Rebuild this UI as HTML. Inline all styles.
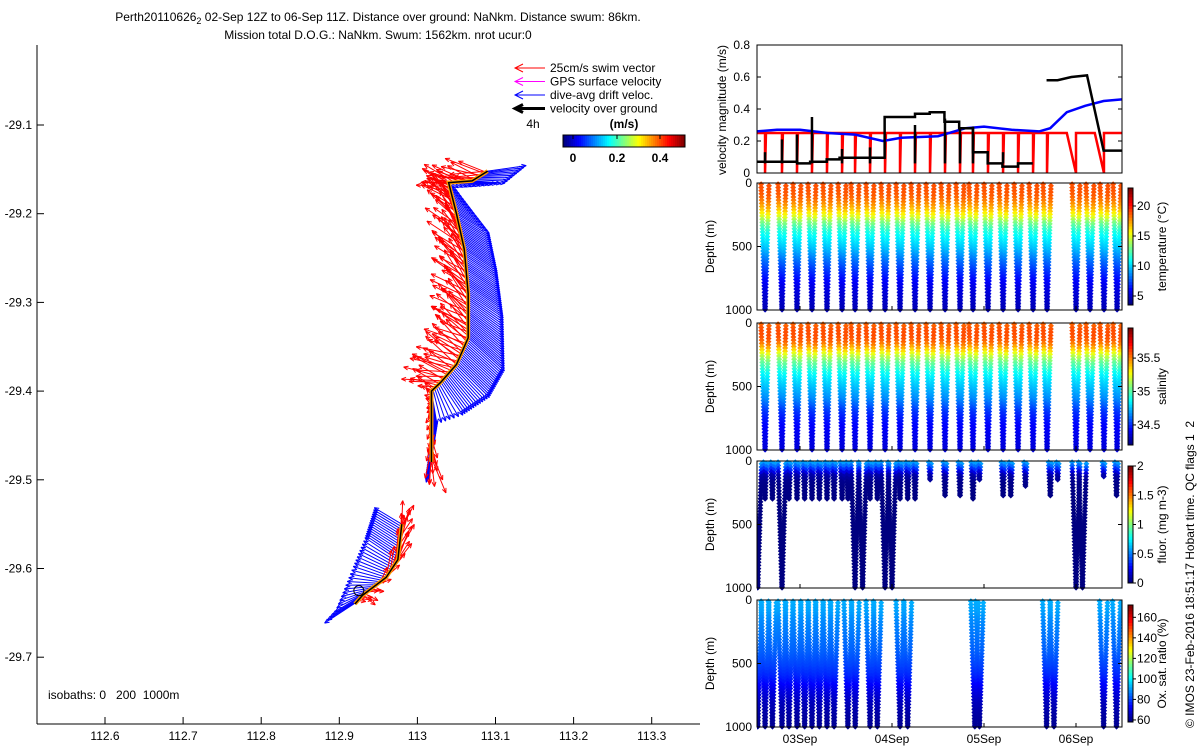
<!DOCTYPE html>
<html><head><meta charset="utf-8">
<style>
body{margin:0;background:#fff;}
svg{display:block;font-family:"Liberation Sans",sans-serif;}
text{fill:#000;white-space:pre;}
</style></head>
<body>
<svg id="c" width="1200" height="750" xmlns="http://www.w3.org/2000/svg">
<text x="378" y="21" font-size="12" text-anchor="middle">Perth20110626<tspan font-size="9" dy="3">2</tspan><tspan dy="-3"> 02-Sep 12Z to 06-Sep 11Z. Distance over ground: NaNkm. Distance swum: 86km.</tspan></text>
<text x="378" y="39" font-size="12" text-anchor="middle">Mission total D.O.G.: NaNkm. Swum: 1562km. nrot ucur:0</text>
<text transform="translate(1194,728) rotate(-90)" font-size="12">© IMOS 23-Feb-2016 18:51:17 Hobart time. QC flags 1  2</text>
</svg>
<script>
// ---------- DATA ----------
const trackLon = [113.09, 113.07, 113.04, 113.05, 113.06, 113.065, 113.065, 113.05, 113.03, 113.018, 113.018];
const trackLat = [-29.152, -29.163, -29.165, -29.2, -29.24, -29.29, -29.34, -29.37, -29.39, -29.40, -29.48];
const driftU = [0.35, 0.3, 0.05, 0.3, 0.3, 0.32, 0.33, 0.3, 0.2, 0.05, -0.05];
const driftV = [0.05, -0.02, -0.05, -0.18, -0.2, -0.22, -0.3, -0.3, -0.3, -0.3, -0.2];
const swimU = [-0.25, -0.25, -0.2, -0.15, -0.18, -0.2, -0.22, -0.25, -0.25, -0.05, 0.03];
const swimV = [0.05, 0.05, 0.05, 0.2, 0.2, 0.18, 0.15, 0.12, 0.05, 0.05, -0.25];
const track2Lon = [112.98, 112.975, 112.96, 112.93, 112.92];
const track2Lat = [-29.55, -29.59, -29.61, -29.63, -29.64];
const drift2U = [-0.25, -0.3, -0.3, -0.25, -0.3];
const drift2V = [0.15, 0.2, 0.1, -0.15, -0.2];
const swim2U = [0.05, 0.06, 0.08, 0.1, 0.05];
const swim2V = [0.15, 0.2, 0.15, -0.05, 0.05];
const xTicks = [112.6, 112.7, 112.8, 112.9, 113, 113.1, 113.2, 113.3];
const xTickLabels = ["112.6","112.7","112.8","112.9","113","113.1","113.2","113.3"];
const yTicks = [-29.1, -29.2, -29.3, -29.4, -29.5, -29.6, -29.7];

const ogT = [2.533,2.97,2.97,3.11,3.11,3.29,3.29,3.43,3.43,3.92,3.92,4.25,4.25,4.41,4.41,4.57,4.57,4.73,4.73,4.88,4.88,5.04,5.04,5.2,5.2,5.37,5.37,5.53];
const ogV = [0.07,0.07,0.06,0.06,0.07,0.07,0.085,0.085,0.095,0.095,0.35,0.35,0.37,0.37,0.38,0.38,0.32,0.32,0.28,0.28,0.13,0.13,0.06,0.06,0.04,0.04,0.06,0.06];
const og2T = [5.68,5.8,5.95,6.12,6.3,6.5];
const og2V = [0.58,0.58,0.6,0.61,0.14,0.14];
const driftT = [2.533,2.75,3.0,3.3,3.6,3.9,4.1,4.5,4.8,5.0,5.3,5.6,5.72,5.9,6.1,6.3,6.5];
const driftM = [0.26,0.27,0.27,0.25,0.24,0.2,0.22,0.23,0.28,0.29,0.27,0.26,0.28,0.38,0.42,0.45,0.46];
const diveT = [2.620,2.804,2.967,3.130,3.293,3.457,3.598,3.761,3.924,4.087,4.250,4.413,4.576,4.739,4.880,5.043,5.207,5.370,5.533,5.685,6.0,6.152,6.304,6.446];
const swimDropT = [2.620,2.804,2.967,3.130,3.293,3.457,3.598,3.761,3.924,4.087,4.250,4.413,4.576,4.739,4.880,5.043,5.207,5.370,5.533,5.685];
const swimTriT = [6.0,6.304];
const profDepth = [0,50,100,150,200,250,300,350,400,500,600,700,800,900,1000];
const tempProf = [19,19,18.8,18,17,15.5,13.5,12,11,9.8,8.2,6.8,5.6,5,4.5];
const salProf = [35.55,35.6,35.6,35.55,35.4,35.2,35.05,34.95,34.85,34.75,34.65,34.5,34.42,34.38,34.35];
const fluProf = [0.6,0.4,0.1,0.03,0.01,0.01,0,0,0,0,0,0,0,0,0];
const oxProf = [92,91,90,88,87,86,85,84,83,80,76,70,65,62,60];
const fluDiveT = [2.54,2.62,2.7,2.804,2.88,2.967,3.05,3.13,3.21,3.293,3.37,3.457,3.52,3.598,3.68,3.761,3.84,3.924,4.0,4.087,4.17,4.25,4.413,4.576,4.739,4.880,4.95,5.207,5.29,5.45,5.72,5.8,6.0,6.07,6.3,6.44];
const fluMax = [1000,300,300,1000,300,300,300,300,300,300,300,300,300,1000,1000,300,300,1000,1000,300,300,300,150,280,280,300,150,280,280,200,280,150,1000,1000,130,280];
const oxDiveT = [2.54,2.62,2.7,2.804,2.88,2.967,3.05,3.13,3.21,3.293,3.37,3.52,3.6,3.761,3.84,4.087,4.17,4.9,4.95,5.68,5.76,6.3,6.44];
const oxMax = [1000,1000,1000,1000,1000,1000,1000,1000,1000,1000,1000,1000,1000,1000,1000,1000,1000,1000,1000,1000,1000,1000,1000];
const dateTicks = [3,4,5,6];
const dateLabels = ["03Sep","04Sep","05Sep","06Sep"];

// ---------- HELPERS ----------
const NS="http://www.w3.org/2000/svg";
const svg=document.getElementById('c');
function mk(tag,attrs,parent){const e=document.createElementNS(NS,tag);for(const k in attrs)e.setAttribute(k,attrs[k]);(parent||svg).appendChild(e);return e;}
function jet(v){v=Math.max(0,Math.min(1,v));const r=Math.max(0,Math.min(1,1.5-Math.abs(4*v-3))),g=Math.max(0,Math.min(1,1.5-Math.abs(4*v-2))),b=Math.max(0,Math.min(1,1.5-Math.abs(4*v-1)));return `rgb(${Math.round(r*255)},${Math.round(g*255)},${Math.round(b*255)})`;}
function interp(xs,ys,x){for(let i=0;i<xs.length-1;i++){if(x>=xs[i]&&x<=xs[i+1]){const f=(x-xs[i])/(xs[i+1]-xs[i]);return ys[i]+f*(ys[i+1]-ys[i]);}}return ys[ys.length-1];}

// ---------- MAP ----------
const mapX=lon=>105+(lon-112.6)*781;
const mapY=lat=>125+(-29.1-lat)*887;
const map=mk('g',{});


mk('line',{x1:37,y1:45,x2:37,y2:724,stroke:'#000'},map);
mk('line',{x1:37,y1:724,x2:700,y2:724,stroke:'#000'},map);
xTicks.forEach((t,i)=>{const x=mapX(t);mk('line',{x1:x,y1:724,x2:x,y2:717,stroke:'#000'},map);
 const l=mk('text',{x:x,y:740,'font-size':12,'text-anchor':'middle'},map);l.textContent=xTickLabels[i];
 });
yTicks.forEach(t=>{const y=mapY(t);mk('line',{x1:37,y1:y,x2:44,y2:y,stroke:'#000'},map);
 const l=mk('text',{x:32,y:y+4,'font-size':12,'text-anchor':'end'},map);l.textContent=t.toFixed(1);
 });
const iso=mk('text',{x:48,y:699,'font-size':12},map);iso.textContent='isobaths: 0   200  1000m';


function arrows(lons,lats,du,dv,su,sv,step){
 const gB=mk('g',{stroke:'#00f','stroke-width':1},map);
 
 const gR=mk('g',{stroke:'#f00','stroke-width':1},map);
 
 let cnt=0;
 for(let i=0;i<lons.length-1;i++){
  const x0=mapX(lons[i]),y0=mapY(lats[i]),x1=mapX(lons[i+1]),y1=mapY(lats[i+1]);
  const n=Math.max(1,Math.round(Math.hypot(x1-x0,y1-y0)/step));
  for(let k=0;k<n;k++){const f=k/n,x=x0+f*(x1-x0),y=y0+f*(y1-y0);cnt++;
   const jit=1.25+0.25*Math.sin(cnt*2.7),ang=0.3*Math.sin(cnt*1.9);
   const bu=du[i]+f*(du[i+1]-du[i]),bv=dv[i]+f*(dv[i+1]-dv[i]);
   const ru=su[i]+f*(su[i+1]-su[i]),rv=sv[i]+f*(sv[i+1]-sv[i]);
   [[bu,bv,gB,1],[ru,rv,gR,jit]].forEach(([u,v,g,s],j)=>{
    let uu=u,vv=v;if(j===1){uu=u*Math.cos(ang)-v*Math.sin(ang);vv=u*Math.sin(ang)+v*Math.cos(ang);}
    const ex=x+uu*110*s,ey=y-vv*110*s;
    mk('line',{x1:x,y1:y,x2:ex,y2:ey},g);
    const a=Math.atan2(ey-y,ex-x);
    mk('line',{x1:ex,y1:ey,x2:ex-5*Math.cos(a-0.4),y2:ey-5*Math.sin(a-0.4)},g);
    mk('line',{x1:ex,y1:ey,x2:ex-5*Math.cos(a+0.4),y2:ey-5*Math.sin(a+0.4)},g);});
  }}
 const pts=lons.map((l,i)=>mapX(l)+','+mapY(lats[i])).join(' ');
 mk('polyline',{points:pts,fill:'none',stroke:'#f90','stroke-width':4},map);
 const tl=mk('polyline',{points:pts,fill:'none',stroke:'#000','stroke-width':1.5},map);
 
}
arrows(trackLon,trackLat,driftU,driftV,swimU,swimV,2);
arrows(track2Lon,track2Lat,drift2U,drift2V,swim2U,swim2V,2.5);
mk('circle',{cx:mapX(112.925),cy:mapY(-29.625),r:5,fill:'none',stroke:'#000'},map);

const leg=mk('g',{'font-size':12},map);

[['25cm/s swim vector','#f00',1],['GPS surface velocity','#f0f',1],['dive-avg drift veloc.','#00f',1],['velocity over ground','#000',3]].forEach((e,i)=>{
 const y=68+i*13.5;
 mk('line',{x1:515,y1:y,x2:545,y2:y,stroke:e[1],'stroke-width':e[2]},leg);
 mk('polyline',{points:`523,${y-4} 515,${y} 523,${y+4}`,fill:'none',stroke:e[1],'stroke-width':e[2]},leg);
 const t=mk('text',{x:550,y:y+4},leg);t.textContent=e[0];
 });
const t4=mk('text',{x:533,y:128,'font-size':12,'text-anchor':'middle'},leg);t4.textContent='4h';
const tms=mk('text',{x:624,y:128,'font-size':12,'font-weight':'bold','text-anchor':'middle'},leg);tms.textContent='(m/s)';
for(let i=0;i<61;i++)mk('rect',{x:563+i*2,y:135,width:2.2,height:12,fill:jet(i/60)},leg);
mk('rect',{x:563,y:135,width:122,height:12,fill:'none',stroke:'#000'},leg);
[['0',573],['0.2',617],['0.4',660]].forEach(([s,x])=>{const t=mk('text',{x:x,y:162,'font-size':12,'font-weight':'bold','text-anchor':'middle'},leg);t.textContent=s;mk('line',{x1:x,y1:135,x2:x,y2:139,stroke:'#000'},leg);});

// ---------- RIGHT PANELS ----------
const L=757,R=1122;
const tx=d=>800+(d-3)*92;
const vp=mk('g',{});

const vy=v=>173-v*160;
const clip=mk('clipPath',{id:'vclip'},vp);mk('rect',{x:L,y:45,width:R-L,height:128},clip);
const vg=mk('g',{'clip-path':'url(#vclip)'},vp);
let rp=[[L,vy(0.25)]];
swimDropT.forEach(t=>{rp.push([tx(t),vy(0.25)],[tx(t),vy(0)],[tx(t+0.01),vy(0.25)]);});
swimTriT.forEach(t=>{rp.push([tx(t-0.1),vy(0.25)],[tx(t),vy(0)],[tx(t),vy(0.25)]);});
rp.push([R,vy(0.25)]);
const red=mk('polyline',{points:rp.map(p=>p.join(',')).join(' '),fill:'none',stroke:'#f00','stroke-width':2.5},vg);

const bl=mk('polyline',{points:driftT.map((t,i)=>tx(t)+','+vy(driftM[i])).join(' '),fill:'none',stroke:'#00f','stroke-width':2.5},vg);

[[ogT,ogV],[og2T,og2V]].forEach(([T,V])=>{const k=mk('polyline',{points:T.map((t,i)=>tx(t)+','+vy(V[i])).join(' '),fill:'none',stroke:'#000','stroke-width':2.5},vg);
 });
[[2.62,0.13],[2.804,0.21],[2.967,0.24],[3.13,0.35],[3.457,0.15],[3.761,0.16],[4.25,0.3],[4.576,0.34],[4.739,0.28],[4.88,0.29],[5.207,0.13]].forEach(([t,v])=>mk('line',{x1:tx(t),y1:vy(0.06),x2:tx(t),y2:vy(v),stroke:'#000','stroke-width':2.5},vg));
mk('rect',{x:L,y:45,width:R-L,height:128,fill:'none',stroke:'#000'},vp);
[0,0.2,0.4,0.6,0.8].forEach(v=>{const y=vy(v);mk('line',{x1:L,y1:y,x2:L+4,y2:y,stroke:'#000'},vp);mk('line',{x1:R,y1:y,x2:R-4,y2:y,stroke:'#000'},vp);
 const t=mk('text',{x:750,y:y+4,'font-size':12,'text-anchor':'end'},vp);t.textContent=v===0?'0':v.toFixed(1);});
const vl=mk('text',{transform:'translate(726,110) rotate(-90)','font-size':12,'text-anchor':'middle'},vp);vl.textContent='velocity magnitude (m/s)';


function depthPanel(top,name,dives,maxD,prof,vmin,vmax,cbTicks,cbLabel,showDates){
 const g=mk('g',{});
 
 const H=127,dy=d=>top+d/1000*H;
 const cp=mk('clipPath',{id:'cl'+top},g);mk('rect',{x:L,y:top-4,width:R-L,height:H+8},cp);
 const pg=mk('g',{'clip-path':'url(#cl'+top+')'},g);
 dives.forEach((t,i)=>{const md=maxD[i];const half=0.035*md/1000+0.008;
  for(let d=10;d<=md;d+=25){const c=jet((interp(profDepth,prof,d)-vmin)/(vmax-vmin));
   [[t-half*(1-d/md),d],[t+half*(1-d/md),d+12]].forEach(([tt,dd])=>{if(dd>md)return;const x=tx(tt),y=dy(dd);
    mk('path',{d:`M${x},${y-3}L${x+3},${y}L${x},${y+3}L${x-3},${y}Z`,fill:c},pg);});}});
 mk('rect',{x:L,y:top,width:R-L,height:H,fill:'none',stroke:'#000'},g);
 [[0,'0'],[500,'500'],[1000,'1000']].forEach(([d,s])=>{const y=dy(d);mk('line',{x1:L,y1:y,x2:L+4,y2:y,stroke:'#000'},g);mk('line',{x1:R,y1:y,x2:R-4,y2:y,stroke:'#000'},g);
  const t=mk('text',{x:752,y:y+4,'font-size':12,'text-anchor':'end'},g);t.textContent=s;});
 dateTicks.forEach(d=>{mk('line',{x1:tx(d),y1:top+H,x2:tx(d),y2:top+H-4,stroke:'#000'},g);});
 const yl=mk('text',{transform:`translate(714,${top+H/2}) rotate(-90)`,'font-size':12,'text-anchor':'middle'},g);yl.textContent='Depth (m)';
 
 const cbT=top+5,cbH=H-10,cx=1128;
 const cb=mk('g',{},g);
 for(let i=0;i<40;i++)mk('rect',{x:cx,y:cbT+cbH-(i+1)*cbH/40,width:5,height:cbH/40+0.5,fill:jet(i/39)},cb);
 mk('rect',{x:cx,y:cbT,width:5,height:cbH,fill:'none',stroke:'#000'},cb);
 cbTicks.forEach(v=>{const y=cbT+cbH-(v-vmin)/(vmax-vmin)*cbH;mk('line',{x1:cx+5,y1:y,x2:cx+8,y2:y,stroke:'#000'},cb);
  const t=mk('text',{x:cx+9,y:y+4,'font-size':12},cb);t.textContent=String(v);});
 const cl=mk('text',{transform:`translate(1166,${top+H/2}) rotate(-90)`,'font-size':12,'text-anchor':'middle'},g);cl.textContent=cbLabel;
 
 if(showDates){dateTicks.forEach((d,i)=>{const t=mk('text',{x:tx(d),y:top+H+16,'font-size':12,'text-anchor':'middle'},g);t.textContent=dateLabels[i];
  });}
}
const allMax=diveT.map(()=>1000);
depthPanel(183,'temperature-panel',diveT,allMax,tempProf,3.5,23,[5,10,15,20],'temperature (°C)',false);
depthPanel(323,'salinity-panel',diveT,allMax,salProf,34.2,35.95,[34.5,35,35.5],'salinity',false);
depthPanel(461,'fluorescence-panel',fluDiveT,fluMax,fluProf,0,2,[0,0.5,1,1.5,2],'fluor. (mg m-3)',false);
depthPanel(600,'oxygen-panel',oxDiveT,oxMax,oxProf,58,172,[60,80,100,120,140,160],'Ox. sat. ratio (%)',true);
</script>
</body></html>
